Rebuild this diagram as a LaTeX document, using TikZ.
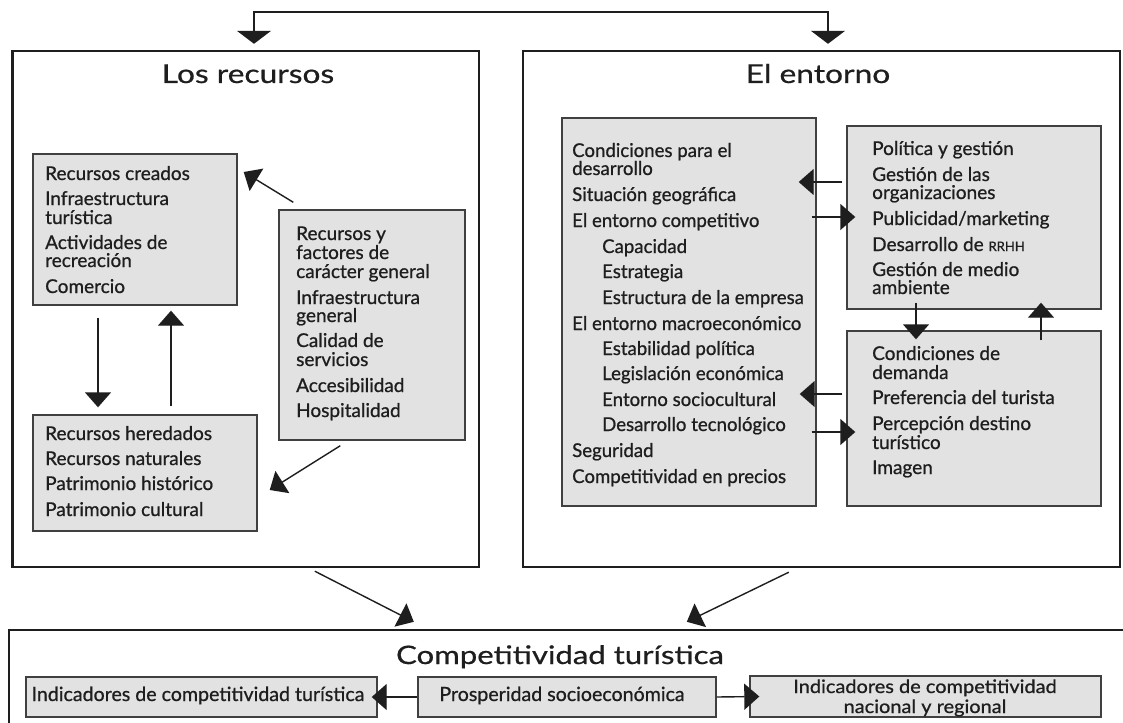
\documentclass[tikz,border=0pt]{standalone}
\usepackage{fontspec}
\setmainfont{Lato}[FakeBold=0.8]
\newfontfamily\bodyfont[FakeBold=0.8]{Lato}
\newfontfamily\condfont[FakeStretch=0.98,FakeBold=0.8]{Lato}
\newfontfamily\botfont[FakeBold=0.8]{Lato}
\newfontfamily\botwfont[FakeStretch=1.08,FakeBold=0.8]{Lato}
\newfontfamily\titlefont[FakeStretch=1.22,FakeBold=0.6]{Lato}
\usetikzlibrary{arrows.meta,fit,calc}
\definecolor{boxgray}{RGB}{226,226,226}
\definecolor{ink}{RGB}{30,30,30}
\tikzset{
  outerbox/.style={draw=ink, line width=2.4pt, inner sep=0pt},
  innerbox/.style={draw=ink!85, line width=1.4pt, fill=boxgray, inner sep=0pt},
  ln/.style={anchor=base west, inner sep=0pt, text=ink, font=\bodyfont\fontsize{19}{19}\selectfont},
  cln/.style={anchor=base west, inner sep=0pt, text=ink, font=\condfont\fontsize{19}{19}\selectfont},
  bln/.style={anchor=base, inner sep=0pt, text=ink, font=\botfont\fontsize{19.6}{19.6}\selectfont},
  bsln/.style={anchor=base, inner sep=0pt, text=ink, font=\botwfont\fontsize{18.5}{18.5}\selectfont},
  ttl/.style={anchor=base, inner sep=0pt, text=ink, font=\titlefont\fontsize{26}{26}\selectfont},
  conn/.style={draw=ink, line width=1.4pt, -{Triangle[length=15pt,width=26pt]}},
  topconn/.style={draw=ink, line width=1.3pt, {Triangle[length=13pt,width=34pt]}-{Triangle[length=13pt,width=34pt]}},
}
\begin{document}
\begin{tikzpicture}[x=1pt,y=-1pt]
\useasboundingbox (0,0) rectangle (1123,722);
\fill[white] (0,0) rectangle (1123,722);
% outer boxes
\node[outerbox, fit={(12.5,51) (479,567)}] (L) {};
\node[outerbox, fit={(523,51) (1120,567)}] (R) {};
\node[outerbox, fit={(9,630) (1150,760)}] (B) {};
% titles
\node[ttl] (tL) at (248,83) {Los recursos};
\node[ttl] (tR) at (818,83) {El entorno};
\node[ttl, font=\titlefont\fontsize{25.5}{25.5}\selectfont] (tB) at (560,664) {Competitividad turística};
% inner boxes
\node[innerbox, fit={(33,154) (237,305)}] (rc) {};
\node[innerbox, fit={(279,210) (465,440)}] (rg) {};
\node[innerbox, fit={(33,415) (257,531)}] (rh) {};
\node[innerbox, fit={(562,118) (816,506)}] (dc) {};
\node[innerbox, fit={(847,126) (1101,309)}] (pg) {};
\node[innerbox, fit={(847,331) (1101,506)}] (cd) {};
\node[innerbox, fit={(26,677) (377,717)}] (b1) {};
\node[innerbox, fit={(418,677) (716,717)}] (b2) {};
\node[innerbox, fit={(750,676) (1101,717)}] (b3) {};
% texts
\foreach \yy/\mytext [count=\i] in {180/Recursos creados, 205/Infraestructura, 224/turística, 249/Actividades de, 267/recreación, 293/Comercio}
  \node[ln] (rct\i) at (45,\yy) {\mytext};
\foreach \yy/\mytext [count=\i] in {240/Recursos y, 259/factores de, 278/carácter general, 304/Infraestructura, 322/general, 347/Calidad de, 366/servicios, 392/Accesibilidad, 417/Hospitalidad}
  \node[ln] (rgt\i) at (296,\yy) {\mytext};
\foreach \yy/\mytext [count=\i] in {440/Recursos heredados, 465/Recursos naturales, 490/Patrimonio histórico, 516/Patrimonio cultural}
  \node[ln] (rht\i) at (45,\yy) {\mytext};
\foreach \xx/\yy/\mytext [count=\i] in {572/157/Condiciones para el, 572/175/desarrollo, 572/201/Situación geográfica, 572/227/El entorno competitivo, 602/253/Capacidad, 602/278/Estrategia, 602/304/Estructura de la empresa, 572/330/El entorno macroeconómico, 602/355/Estabilidad política, 602/380/Legislación económica, 602/406/Entorno sociocultural, 602/431/Desarrollo tecnológico, 572/457/Seguridad, 572/483/Competitividad en precios}
  \node[cln] (dct\i) at (\xx,\yy) {\mytext};
\foreach \yy/\mytext [count=\i] in {155/{Política y gestión}, 181/{Gestión de las}, 199/{organizaciones}, 225/{Publicidad/marketing}, 251/{Desarrollo de {\fontsize{13}{13}\selectfont RRHH}}, 276/{Gestión de medio}, 294/{ambiente}}
  \node[ln] (pgt\i) at (872,\yy) {\mytext};
\foreach \yy/\mytext [count=\i] in {360/Condiciones de, 379/demanda, 404/Preferencia del turista, 430/Percepción destino, 449/turístico, 474/Imagen}
  \node[ln] (cdt\i) at (872,\yy) {\mytext};
\node[bln] (b1t) at (198,701) {Indicadores de competitividad turística};
\node[bln] (b2t) at (562,701) {Prosperidad socioeconómica};
\node[bsln] (b3t1) at (925,693) {Indicadores de competitividad};
\node[bsln] (b3t2) at (925,713) {nacional y regional};
% connectors
\coordinate (tl) at (254,12);
\coordinate (tr) at (828,12);
\draw[topconn] ($(L.north -| tl)+(0,-6)$) -- (tl) -- (tr) -- ($(R.north -| tr)+(0,-6)$);
\draw[conn] ($(rg.north west)+(15,-7)$) -- ($(rc.east |- 0,172)+(6,0)$);
\draw[conn] ($(rg.south west)+(62,5)$) -- ($(rh.east |- 0,490)+(12,0)$);
\draw[conn] ($(rc.south -| 98,0)+(0,12)$) -- ($(rh.north -| 98,0)+(0,-7)$);
\draw[conn] ($(rh.north -| 171,0)+(0,-8)$) -- ($(rc.south -| 171,0)+(0,5)$);
\draw[conn] ($(pg.west |- 0,182)+(-4,0)$) -- ($(dc.east |- 0,182)+(-18,0)$);
\draw[conn] ($(dc.east |- 0,217)+(-5,0)$) -- ($(pg.west |- 0,217)+(9,0)$);
\draw[conn] ($(cd.west |- 0,394)+(-4,0)$) -- ($(dc.east |- 0,394)+(-17,0)$);
\draw[conn] ($(dc.east |- 0,432)+(-5,0)$) -- ($(cd.west |- 0,432)+(9,0)$);
\draw[conn] ($(pg.south -| 916,0)+(0,-7)$) -- ($(cd.north -| 916,0)+(0,9)$);
\draw[conn] ($(cd.north -| 1041,0)+(0,10)$) -- ($(pg.south -| 1041,0)+(0,-7)$);
\draw[conn] ($(L.south west)+(303.5,3)$) -- ($(B.north west)+(406,-7)$);
\draw[conn] ($(R.south west)+(267,4)$) -- ($(B.north west)+(679,-7)$);
\draw[conn] (b2.west) -- ($(b1.east)+(-6,0)$);
\draw[conn] (b2.east) -- ($(b3.west)+(10,0)$);
\end{tikzpicture}
\end{document}
